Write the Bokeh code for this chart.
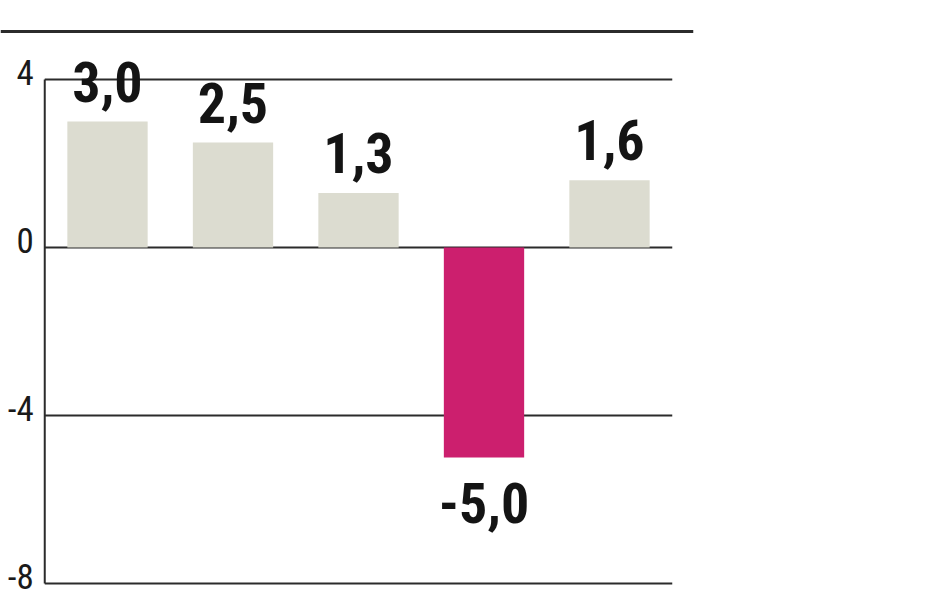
from bokeh.plotting import figure
from bokeh.models import ColumnDataSource, Range1d
from bokeh.core.properties import value
from bokeh.embed import file_html
from bokeh.resources import INLINE

# --- data ---
categories = ["1", "2", "3", "4", "5"]
values = [3.0, 2.5, 1.3, -5.0, 1.6]
y_ticks = [-8, -4, 0, 4]
y_tick_labels = ["-8", "-4", "0", "4"]

POS_COLOR = "#dcdcd0"
NEG_COLOR = "#cc1f6e"
LINE = "#2b2b2b"
FONT = "Roboto Condensed"

xs = [i + 1 for i in range(len(categories))]
colors = [POS_COLOR if v >= 0 else NEG_COLOR for v in values]
labels = [f"{v:.1f}".replace(".", ",") for v in values]
offsets = [-40 if v >= 0 else 45 for v in values]

src = ColumnDataSource(dict(x=xs, val=values, color=colors,
                            label=labels, off=offsets))

# layout: 125.5 px per category, 42 px per unit
W, H = 940, 593
frame_left_px, frame_right_px = 0, 693
axis_px = 44.25
cat_px = 125.5
unit_px = 42.0
top_px, rule_px, y4_px, ym8_px = 28, 31, 79, 583

x_start = 0.5 + (frame_left_px - axis_px) / cat_px
x_end = 0.5 + (frame_right_px - axis_px) / cat_px
y_end = max(y_ticks) + (y4_px - top_px) / unit_px
rule_y = max(y_ticks) + (y4_px - rule_px) / unit_px
y_start = min(y_ticks) - (H - ym8_px) / unit_px

p = figure(width=W, height=H,
           x_range=Range1d(x_start, x_end), y_range=Range1d(y_start, y_end),
           output_backend="svg", toolbar_location=None,
           x_axis_location=None, y_axis_location=None,
           min_border_left=0, min_border_right=W - frame_right_px,
           min_border_top=top_px, min_border_bottom=0)
p.outline_line_color = None
p.background_fill_color = "white"
p.border_fill_color = "white"
p.xgrid.visible = False
p.ygrid.visible = False

# all rules in one multi-line glyph: gridlines, value axis, header rule
n = len(categories)
lx = [[0.5, n + 0.5] for _ in y_ticks]
ly = [[t, t] for t in y_ticks]
lw = [2] * len(y_ticks)
lx.append([0.5, 0.5])
ly.append([min(y_ticks), max(y_ticks)])
lw.append(2)
lx.append([x_start, x_end])
ly.append([rule_y, rule_y])
lw.append(3)
p.multi_line(xs=lx, ys=ly, line_width=lw, line_color=LINE)

p.vbar(x="x", top="val", bottom=0, width=0.64, color="color",
       line_color=None, source=src)

p.text(x="x", y="val", text="label", y_offset="off", source=src,
       text_font=value(FONT), text_font_style="bold",
       text_font_size="56px",
       text_align="center", text_baseline="alphabetic", text_color="#141414")

p.text(x=[0.5] * len(y_ticks), y=y_ticks, text=y_tick_labels,
       x_offset=-11, y_offset=-7,
       text_font=value(FONT), text_font_size="35px",
       text_align="right", text_baseline="middle", text_color="#1a1a1a")

open("out.html", "w").write(file_html(p, INLINE))
